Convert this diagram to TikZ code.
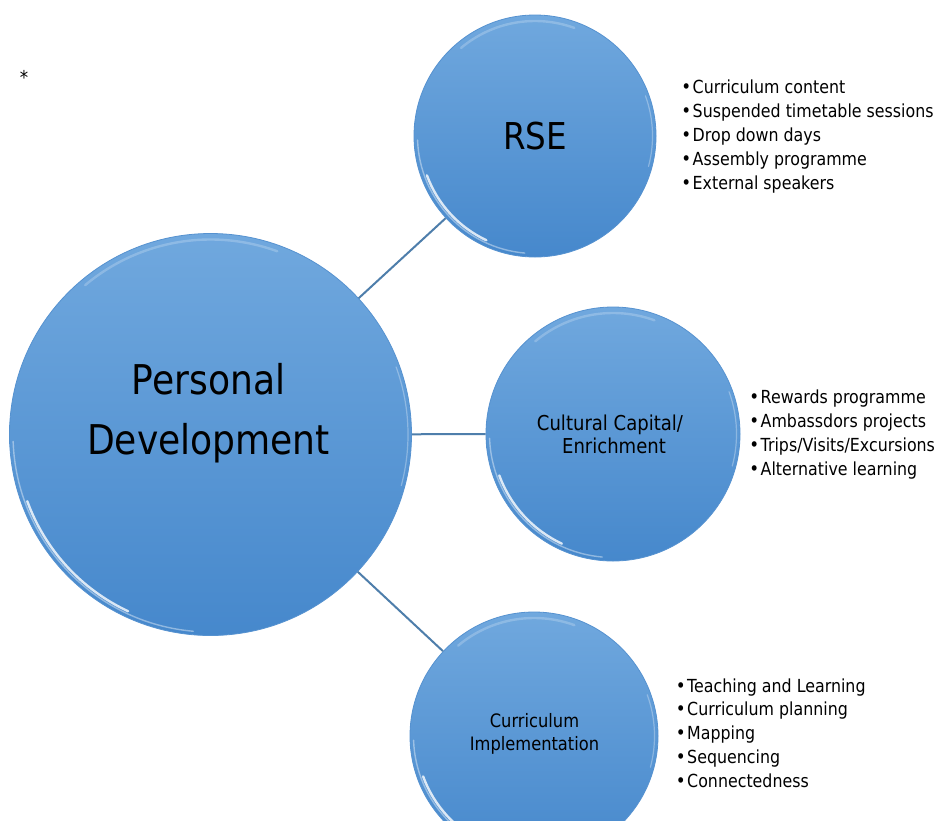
\documentclass[tikz,border=0pt]{standalone}
\usepackage{fontspec}
\setmainfont{DejaVu Sans}[FakeStretch=0.88]
\usetikzlibrary{calc}
\definecolor{cTop}{RGB}{112,168,222}
\definecolor{cBot}{RGB}{70,136,204}
\definecolor{cEdge}{RGB}{86,146,208}
\definecolor{cLine}{RGB}{78,126,171}
\newcommand\glint[2]{%
  \draw[white, opacity=0.8, line width=2.4pt, line cap=round]
    ([shift={(200:#2-6pt)}]#1.center) arc[start angle=200, end angle=245, radius=#2-6pt];
  \draw[white, opacity=0.4, line width=1.4pt, line cap=round]
    ([shift={(182:#2-3.5pt)}]#1.center) arc[start angle=182, end angle=265, radius=#2-3.5pt];
  \draw[white, opacity=0.22, line width=2.4pt, line cap=round]
    ([shift={(70:#2-6pt)}]#1.center) arc[start angle=70, end angle=130, radius=#2-6pt];
  \draw[white, opacity=0.3, line width=1.2pt, line cap=round]
    ([shift={(-15:#2-3.5pt)}]#1.center) arc[start angle=-15, end angle=20, radius=#2-3.5pt];
}
\newcommand\bul{\makebox[13pt][c]{\fontsize{19}{19}\selectfont •}}
\begin{document}
\begin{tikzpicture}[x=1pt,y=-1pt,
  bubble/.style={circle, inner sep=0pt, minimum size=#1, top color=cTop, bottom color=cBot, draw=cEdge, line width=0.8pt},
  conn/.style={draw=cLine, line width=2pt},
  listtext/.style={anchor=west, align=left, inner sep=0pt, font=\fontsize{18}{23.8}\selectfont},
  lbl/.style={align=center, inner sep=0pt, text=black}]
\useasboundingbox (0,0) rectangle (947,820);
\fill[white] (0,0) rectangle (947,820);

% circles
\node[bubble=402pt] (pd) at (210.5,434.5) {};
\node[bubble=242pt] (rse) at (535,136) {};
\node[bubble=254pt] (cc) at (613,434) {};
\node[bubble=248pt] (ci) at (534,736) {};

\glint{pd}{201pt}
\glint{rse}{121pt}
\glint{cc}{127pt}
\glint{ci}{124pt}

% connectors
\draw[conn] (pd) -- (rse);
\draw[conn] (pd) -- (cc);
\draw[conn] (pd) -- (ci);

% labels
\node[lbl, font=\fontsize{41}{60}\selectfont] (pdt) at (208.5,413) {Personal\\Development};
\node[lbl, font=\fontsize{37}{44}\selectfont] (rset) at (535,136) {RSE};
\node[lbl, font=\fontsize{20.5}{23.5}\selectfont] (cct) at (614,434.5) {Cultural Capital/\hspace*{8pt}\\Enrichment};
\node[lbl, font=\fontsize{18.5}{23}\selectfont] (cit) at (534.5,733.5) {Curriculum\\Implementation};

% lists
\node[listtext] (rsel) at (679.5,136.5) {\bul Curriculum content\\\bul Suspended timetable sessions\\\bul Drop down days\\\bul Assembly programme\\\bul External speakers};
\node[listtext] (ccl) at (747.5,434.5) {\bul Rewards programme\\\bul Ambassdors projects\\\bul Trips/Visits/Excursions\\\bul Alternative learning};
\node[listtext] (cil) at (674,733) {\bul Teaching and Learning\\\bul Curriculum planning\\\bul Mapping\\\bul Sequencing\\\bul Connectedness};

% asterisk
\node[inner sep=0pt, font=\fontsize{19}{19}\selectfont] (ast) at (24,77) {*};
\end{tikzpicture}
\end{document}
